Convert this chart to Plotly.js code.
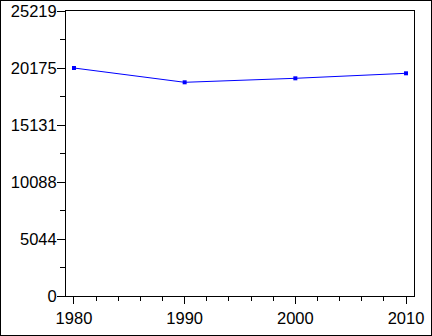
<!DOCTYPE html>
<html>
<head>
<meta charset="utf-8">
<script src="https://cdn.plot.ly/plotly-3.0.1.min.js"></script>
<style>
html,body{margin:0;padding:0;background:#fff;}
#chart{width:430px;height:334px;border:1px solid #000;}
</style>
</head>
<body>
<div id="chart"></div>
<script>
const years = [1980, 1990, 2000, 2010];
const values = [20175, 18910, 19263, 19706];
const yTickVals = [0, 5044, 10088, 15131, 20175, 25219];
const yTickText = ['0', '5044', '10088', '15131', '20175', '25219'];
const xTickVals = [1980, 1990, 2000, 2010];
const xTickText = ['1980', '1990', '2000', '2010'];

const yMinor = [];
for (let i = 0; i < yTickVals.length - 1; i++) yMinor.push((yTickVals[i] + yTickVals[i + 1]) / 2);

const fontFam = '"Liberation Sans", Arial, Helvetica, sans-serif';

Plotly.newPlot('chart', [{
  x: years, y: values, type: 'scatter', mode: 'lines+markers',
  line: {color: '#0000ff', width: 1},
  marker: {color: '#0000ff', symbol: 'square', size: 4},
  hoverinfo: 'skip'
}], {
  width: 430, height: 334,
  margin: {l: 65, r: 17, t: 10, b: 39},
  paper_bgcolor: '#fff', plot_bgcolor: '#fff',
  showlegend: false,
  font: {family: fontFam, size: 16.5, color: '#000'},
  xaxis: {
    range: [1979.28, 2010.72], tickmode: 'array', tickvals: xTickVals, ticktext: xTickText,
    showline: true, linecolor: '#000', linewidth: 1, mirror: true,
    ticks: 'outside', ticklen: 7, tickcolor: '#000', tickwidth: 1,
    showgrid: false, zeroline: false,
    minor: {dtick: 2, tick0: 1980, ticks: 'outside', ticklen: 4, tickcolor: '#000', tickwidth: 1, showgrid: false},
    tickfont: {family: fontFam, size: 16.5, color: '#000'}
  },
  yaxis: {
    range: [0, 25219], tickmode: 'array', tickvals: yTickVals, ticktext: yTickText,
    showline: true, linecolor: '#000', linewidth: 1, mirror: true,
    ticks: 'outside', ticklen: 8, tickcolor: '#000', tickwidth: 1,
    ticklabelstandoff: -3,
    showgrid: false, zeroline: false,
    minor: {tickmode: 'array', tickvals: yMinor, ticks: 'outside', ticklen: 5, tickcolor: '#000', tickwidth: 1, showgrid: false},
    tickfont: {family: fontFam, size: 16.5, color: '#000'}
  }
}, {staticPlot: true, displayModeBar: false});
</script>
</body>
</html>
